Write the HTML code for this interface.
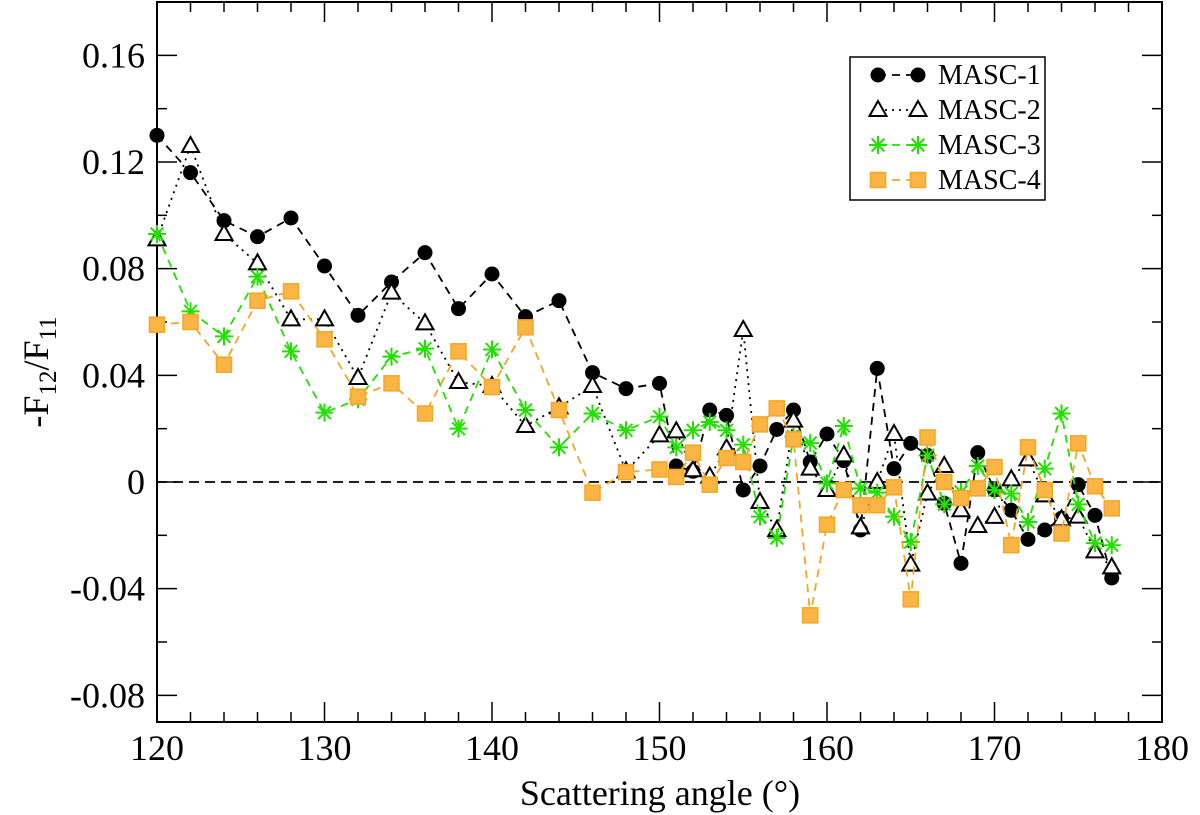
<!DOCTYPE html>
<html><head><meta charset="utf-8"><style>
body{margin:0;background:#fff;}
svg{display:block;font-family:"Liberation Serif",serif;}
</style></head><body>
<svg id="chart" width="1200" height="815"></svg>
<script>
const xs = [120,122,124,126,128,130,132,134,136,138,140,142,144,146,148,150,151,152,153,154,155,156,157,158,159,160,161,162,163,164,165,166,167,168,169,170,171,172,173,174,175,176,177];
const masc1 = [0.130,0.116,0.098,0.092,0.099,0.081,0.0625,0.075,0.086,0.065,0.078,0.062,0.068,0.041,0.035,0.037,0.006,0.004,0.027,0.025,-0.003,0.006,0.0197,0.027,0.0075,0.018,0.008,-0.018,0.0426,0.005,0.0145,0.010,-0.008,-0.0305,0.011,-0.003,-0.0106,-0.0215,-0.018,-0.0136,-0.001,-0.0125,-0.036];
const masc2 = [0.091,0.126,0.093,0.082,0.061,0.061,0.039,0.071,0.0595,0.0375,0.036,0.021,0.028,0.036,0.004,0.0175,0.019,0.0044,0.002,0.0126,0.057,-0.0075,-0.018,0.023,0.005,-0.003,0.010,-0.017,0.0,0.018,-0.031,-0.0043,0.006,-0.0106,-0.0165,-0.0131,0.001,0.0085,-0.005,-0.014,-0.013,-0.026,-0.032];
const masc3 = [0.093,0.064,0.0546,0.077,0.049,0.026,0.031,0.047,0.050,0.020,0.0497,0.027,0.013,0.0257,0.0194,0.0245,0.013,0.0194,0.0225,0.0194,0.014,-0.013,-0.021,0.017,0.0146,-0.0005,0.021,-0.0024,-0.004,-0.013,-0.0225,0.010,-0.0084,-0.0037,0.006,-0.003,-0.0043,-0.015,0.005,0.0257,-0.0084,-0.0229,-0.0237];
const masc4 = [0.059,0.060,0.044,0.068,0.0715,0.0535,0.032,0.037,0.0257,0.049,0.0356,0.058,0.027,-0.004,0.0037,0.0047,0.0019,0.011,-0.001,0.009,0.0075,0.0216,0.0276,0.016,-0.050,-0.016,-0.003,-0.0087,-0.0087,-0.002,-0.044,0.0167,0.0,-0.006,-0.0024,0.0056,-0.0237,0.013,-0.003,-0.0193,0.0145,-0.0016,-0.0099];
const yTicks = [-0.08,-0.04,0,0.04,0.08,0.12,0.16];
const yTickLabels = ["-0.08","-0.04","0","0.04","0.08","0.12","0.16"];
const xTicks = [120,130,140,150,160,170,180];

const svg = document.getElementById('chart');
const NS = 'http://www.w3.org/2000/svg';
const L=157, R=1162, T=2, B=722;
const X0=120, X1=180, Y0=-0.09, Y1=0.18;
function sx(v){return L+(v-X0)/(X1-X0)*(R-L);}
function sy(v){return B-(v-Y0)/(Y1-Y0)*(B-T);}
function el(tag, attrs, parent){
  const e=document.createElementNS(NS,tag);
  for(const k in attrs) e.setAttribute(k,attrs[k]);
  (parent||svg).appendChild(e); return e;
}
const frame = el('rect',{x:L,y:T,width:R-L,height:B-T,fill:'none',stroke:'#000','stroke-width':2});


const tickG = el('g',{stroke:'#000','stroke-width':1.5});


for(let v=120; v<=180; v+=2){
  const major = (v%10===0); const len = major?20:10; const x=sx(v);
  el('line',{x1:x,y1:B,x2:x,y2:B-len},tickG);
  el('line',{x1:x,y1:T,x2:x,y2:T+len},tickG);
}
for(let i=-4;i<=9;i++){
  const v=i*0.02; const major=(i%2===0); const len=major?20:10; const y=sy(v);
  if(y<T||y>B) continue;
  el('line',{x1:L,y1:y,x2:L+len,y2:y},tickG);
  el('line',{x1:R,y1:y,x2:R-len,y2:y},tickG);
}
yTicks.forEach((v,i)=>{
  const t=el('text',{x:L-12,y:sy(v)+12,'text-anchor':'end','font-size':36});
  t.textContent=yTickLabels[i];
  
  
});
xTicks.forEach(v=>{
  const t=el('text',{x:sx(v),y:760,'text-anchor':'middle','font-size':36});
  t.textContent=String(v);
  
  
});
const zl=el('line',{x1:L,y1:sy(0),x2:R,y2:sy(0),stroke:'#000','stroke-width':1.8,'stroke-dasharray':'10,6'});


const xt=el('text',{x:660,y:805,'text-anchor':'middle','font-size':36});
xt.textContent='Scattering angle (°)';


const yt=el('text',{transform:'translate(48,372) rotate(-90)','text-anchor':'middle','font-size':36});
yt.innerHTML='-F<tspan font-size="25" dy="8">12</tspan><tspan dy="-8">/F</tspan><tspan font-size="25" dy="8">11</tspan>';



function marker(type,x,y,g){
  if(type==='circle') return el('circle',{cx:x,cy:y,r:7.5,fill:'#000'},g);
  if(type==='tri') return el('polygon',{points:`${x},${y-9} ${x-8.5},${y+6} ${x+8.5},${y+6}`,fill:'#fff',stroke:'#000','stroke-width':2},g);
  if(type==='square') return el('rect',{x:x-7.5,y:y-7.5,width:15,height:15,fill:'#fbb545',stroke:'#f5a623','stroke-width':1.5},g);
  if(type==='star'){
    const s=el('g',{stroke:'#22e000','stroke-width':2},g);
    for(let a=0;a<4;a++){const ang=a*Math.PI/4; const dx=9*Math.cos(ang), dy=9*Math.sin(ang);
      el('line',{x1:x-dx,y1:y-dy,x2:x+dx,y2:y+dy},s);}
    return s;
  }
}
const series=[
  {name:'masc-1',vals:masc1,color:'#000',dash:'8,6',m:'circle',label:'MASC-1'},
  {name:'masc-2',vals:masc2,color:'#000',dash:'2,5',m:'tri',label:'MASC-2'},
  {name:'masc-3',vals:masc3,color:'#22e000',dash:'8,6',m:'star',label:'MASC-3'},
  {name:'masc-4',vals:masc4,color:'#f5a623',dash:'8,6',m:'square',label:'MASC-4'}
];
series.forEach(s=>{
  const g=el('g',{});
  
  
  const pts=xs.map((x,i)=>sx(x)+','+sy(s.vals[i])).join(' ');
  el('polyline',{points:pts,fill:'none',stroke:s.color,'stroke-width':1.8,'stroke-dasharray':s.dash},g);
  xs.forEach((x,i)=>{
    const m=marker(s.m,sx(x),sy(s.vals[i]),g);
    
    
  });
});
const lg=el('g',{});


el('rect',{x:850,y:57,width:195,height:143,fill:'#fff',stroke:'#000','stroke-width':1.5},lg);
series.forEach((s,i)=>{
  const y=75+i*35;
  const e=el('g',{},lg);
  
  
  el('line',{x1:878,y1:y,x2:918,y2:y,stroke:s.color,'stroke-width':1.8,'stroke-dasharray':s.dash},e);
  marker(s.m,878,y,e); marker(s.m,918,y,e);
  const t=el('text',{x:938,y:y+9,'font-size':28},e);
  t.textContent=s.label;
});
</script>
</body></html>
